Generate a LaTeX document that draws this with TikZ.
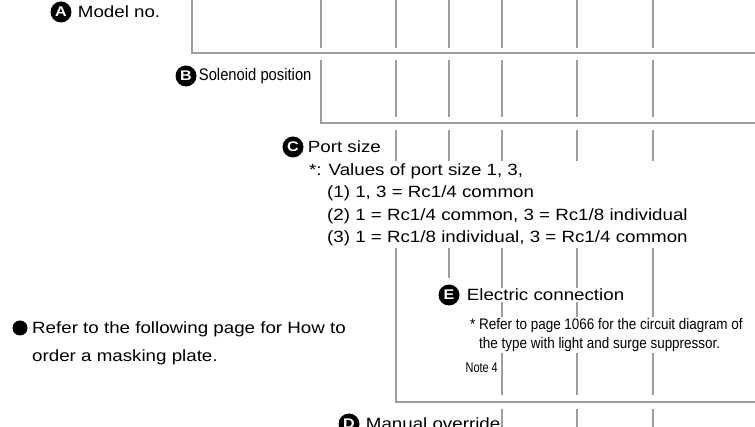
\documentclass[tikz,border=0pt]{standalone}
\usepackage{fontspec}
\setmainfont{Liberation Sans}[FakeStretch=1.15]
\newfontfamily\narrowfont{Liberation Sans}[FakeStretch=0.88]
\newfontfamily\notefont{Liberation Sans}[FakeStretch=0.78]
\usetikzlibrary{positioning}

\definecolor{guidegray}{RGB}{158,158,161}

\tikzset{
  guide/.style={draw=guidegray, line width=2pt},
  badge/.style={circle, fill=black, text=white, inner sep=0pt, minimum size=21pt,
    font=\fontsize{14}{14}\selectfont\bfseries},
  lbl/.style={inner sep=0pt, font=\fontsize{16.3}{22.5}\selectfont},
  note/.style={inner sep=1pt, fill=white, align=left},
}

\begin{document}
\begin{tikzpicture}[x=1pt, y=-1pt]
\useasboundingbox (0,0) rectangle (755,427);
\clip (0,0) rectangle (755,427);

% A: model no.
\foreach \x in {321,396,449,502,577,653} {
  \draw[guide] (\x,0) -- (\x,48);
}
\draw[guide] (192,0) -- (192,53) -- (755,53);
\node[badge] (bA) at (61,12) {A};
\node[lbl, right=6pt of bA] (tA) {Model no.};

% B: solenoid position
\foreach \x in {396,449,502,577,653} {
  \draw[guide] (\x,60) -- (\x,117);
}
\draw[guide] (321,60) -- (321,123) -- (755,123);
\node[badge] (bB) at (186,76) {B};
\node[inner sep=0pt, right=2pt of bB, font=\narrowfont\fontsize{16.8}{20}\selectfont] (tB) {Solenoid position};

% C: port size
\node[badge] (bC) at (293,147) {C};
\node[lbl, right=4pt of bC] (tC) {Port size};
\node[badge] (bE) at (449,295) {E};
\draw[guide] (396,130) -- (396,402) -- (755,402);
\draw[guide] (449,130) -- ([yshift=6pt]bE.north);
\foreach \x in {502,577,653} {
  \draw[guide] (\x,130) -- (\x,395);
  \draw[guide] (\x,409) -- (\x,427);
}
\node[note, lbl, inner sep=2pt, anchor=north west] (portlist) at (307,161)
  {*: Values of port size 1, 3,\\
   \hspace*{18pt}(1) 1, 3 = Rc1/4 common\\
   \hspace*{18pt}(2) 1 = Rc1/4 common, 3 = Rc1/8 individual\\
   \hspace*{18pt}(3) 1 = Rc1/8 individual, 3 = Rc1/4 common};

% E: electric connection
\node[lbl, fill=white, inner sep=1pt, right=6pt of bE] (tE) {Electric connection};
\node[note, anchor=north west, font=\narrowfont\fontsize{15.3}{19.5}\selectfont] (circuit) at (469,317)
  {* Refer to page 1066 for the circuit diagram of\\
   \phantom{* }the type with light and surge suppressor.};
\node[inner sep=0pt, anchor=base east, font=\notefont\fontsize{14}{16}\selectfont] (note4) at (498,373) {Note 4};

% D: manual override
\node[badge] (bD) at (349,424) {D};
\node[lbl, right=6pt of bD] (tD) {Manual override};

% masking plate remark
\node[circle, fill=black, inner sep=0pt, minimum size=15pt] (dot) at (20,328) {};
\node[inner sep=0pt, anchor=north west, align=left, font=\fontsize{16.3}{28}\selectfont] (mask) at (32,321)
  {Refer to the following page for How to\\order a masking plate.};
\end{tikzpicture}
\end{document}
